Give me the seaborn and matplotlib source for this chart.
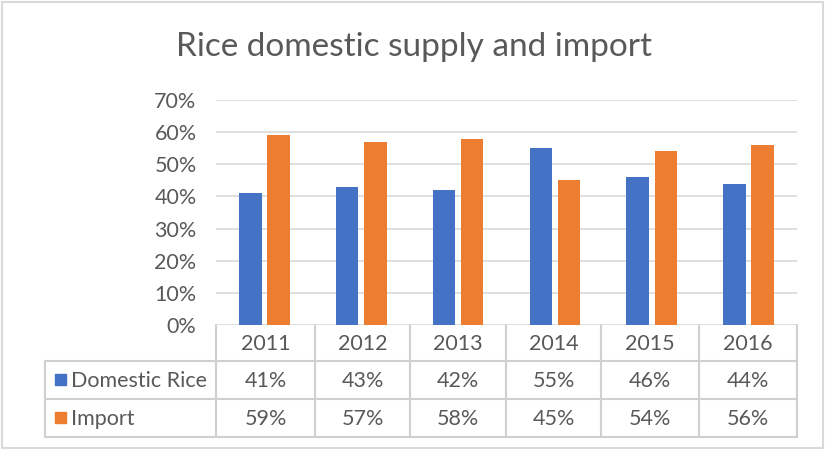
import matplotlib
matplotlib.use("Agg")
import matplotlib.pyplot as plt
import seaborn as sns
import pandas as pd
from matplotlib.ticker import PercentFormatter
from matplotlib.lines import Line2D
from matplotlib.patches import Rectangle

years = ["2011", "2012", "2013", "2014", "2015", "2016"]
domestic = [0.41, 0.43, 0.42, 0.55, 0.46, 0.44]
imports = [0.59, 0.57, 0.58, 0.45, 0.54, 0.56]
series_names = ["Domestic Rice", "Import"]
title = "Rice domestic supply and import"

BLUE = "#4472C4"
ORANGE = "#ED7D31"
TXT = "#595959"
GRID = "#D9D9D9"

df = pd.DataFrame({
    "year": years * 2,
    "value": domestic + imports,
    "series": [series_names[0]] * len(years) + [series_names[1]] * len(years),
})

sns.set_theme(style="white")
plt.rcParams["font.family"] = ["Lato", "DejaVu Sans"]

W, H = 825, 450
fig = plt.figure(figsize=(W / 100, H / 100), dpi=100)

# main bar axes (pixel layout -> figure fractions)
x0, x1, ytop, ybot = 216, 797, 100, 325
ax = fig.add_axes([x0 / W, 1 - ybot / H, (x1 - x0) / W, (ybot - ytop) / H])
sns.barplot(data=df, x="year", y="value", hue="series", palette=[BLUE, ORANGE],
            width=0.58, gap=0.2, ax=ax, legend=False, saturation=1, zorder=3,
            edgecolor="none")
ax.set_ylim(0, 0.7)
ax.set_xlim(-0.5, len(years) - 0.5)
ax.set_yticks([i / 10 for i in range(8)])
ax.yaxis.set_major_formatter(PercentFormatter(1.0, decimals=0))
ax.tick_params(axis="y", length=0, pad=14, labelsize=15.5, labelcolor=TXT)
ax.set_xticks([])
ax.set_xlabel("")
ax.set_ylabel("")
ax.grid(axis="y", color=GRID, lw=1.2, zorder=0)
for s in ax.spines.values():
    s.set_visible(False)

# overlay axes in pixel coordinates for table, border and title
ov = fig.add_axes([0, 0, 1, 1], zorder=-1)
ov.set_xlim(0, W)
ov.set_ylim(H, 0)
ov.axis("off")
ov.add_patch(Rectangle((2, 2), W - 4, H - 4, fill=False, ec=GRID, lw=1.5))
ov.text(W / 2 + 1, 47, title, ha="center", va="center", fontsize=24, color=TXT)

col_edges = [216, 315, 410, 506, 601, 699, 797]
rows = [325, 361, 399, 437]
left = 45
LC = "#D0D0D0"
# table lines drawn behind the bars axes
for r in rows[1:]:
    ov.add_line(Line2D([left, 797], [r] * 2, color=LC, lw=1.5))
for c in col_edges:
    ov.add_line(Line2D([c, c], [rows[0], rows[3]], color=LC, lw=1.5))
ov.add_line(Line2D([left, left], [rows[1], rows[3]], color=LC, lw=1.5))

fs = 15.5
for i, yr in enumerate(years):
    cx = (col_edges[i] + col_edges[i + 1]) / 2
    ov.text(cx, (rows[0] + rows[1]) / 2 + 1, yr, ha="center", va="center", fontsize=fs, color=TXT)
    ov.text(cx, (rows[1] + rows[2]) / 2 + 1, f"{round(domestic[i]*100)}%", ha="center", va="center", fontsize=fs, color=TXT)
    ov.text(cx, (rows[2] + rows[3]) / 2 + 1, f"{round(imports[i]*100)}%", ha="center", va="center", fontsize=fs, color=TXT)

for j, (name, col) in enumerate(zip(series_names, [BLUE, ORANGE])):
    cy = (rows[1 + j] + rows[2 + j]) / 2
    ov.add_patch(Rectangle((55, cy - 6), 11, 11, color=col))
    ov.text(71, cy + 1, name, ha="left", va="center", fontsize=fs, color=TXT)

ax.patch.set_alpha(0)
fig.savefig("out.png", dpi=100)
